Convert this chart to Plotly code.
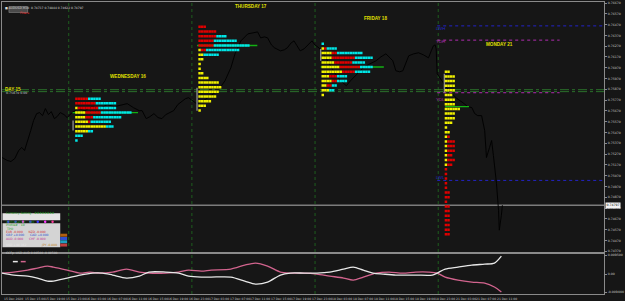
import plotly.graph_objects as go

# ---------------- data ----------------
# price line: bar index (30-min bars from 15 Dec 11:00) and close price
line_bar = [0, 2, 3.5, 5, 6.5, 7.7, 8.8, 10, 11.2, 12.3,
            13.5, 14.6, 15.8, 16.9, 18.1, 19.2, 20.4, 21.5, 22.7, 24.2,
            25.4, 27.3, 29.6, 32.3, 35, 38, 41, 43.8, 46.5, 48.8,
            51.2, 53.5, 54.6, 56.2, 57.7, 59.2, 60.8, 62.3, 63.8, 65.4,
            66.9, 68.5, 70, 71.5, 72.7, 74.2, 75.8, 78.5, 81.2, 84.2,
            86.9, 89.2, 90.8, 93.1, 95.8, 97.7, 99.6, 100.8, 102.3, 103.5,
            105, 106.2, 108.5, 110, 111.2, 112.7, 113.8, 115, 116.2, 117.7,
            118.8, 120, 120.8, 121.9, 123.5, 125, 127.3, 129.6, 131.9, 134.2,
            135.8, 136.9, 138.8, 140.8, 142.7, 144.2, 145.8, 147.7, 149.6, 151.2,
            152.3, 153.5, 155, 156.2, 157.3, 158.5, 160.4, 162.3, 164.2, 166.2,
            167.3, 168.1, 168.8, 169.2, 169.6, 170.8, 172.7, 175, 177.3, 179.6,
            181.5, 183.1, 184.2, 185.4, 186.9, 188.1, 188.8, 190, 190.8, 191.5,
            192.7, 193.5, 193.8, 194.6, 195]
line_price = [0.75239, 0.75212, 0.75202, 0.75230, 0.75304, 0.75332, 0.75304, 0.75387, 0.75489, 0.75581,
              0.75645, 0.75655, 0.75627, 0.75692, 0.75636, 0.75664, 0.75599, 0.75618, 0.75655, 0.75636,
              0.75609, 0.75655, 0.75692, 0.75673, 0.75710, 0.75692, 0.75729, 0.75710, 0.75729, 0.75738,
              0.75701, 0.75673, 0.75673, 0.75599, 0.75618, 0.75645, 0.75609, 0.75599, 0.75636, 0.75655,
              0.75673, 0.75729, 0.75756, 0.75784, 0.75793, 0.75765, 0.75738, 0.75765, 0.75812, 0.75858,
              0.75950, 0.76070, 0.76199, 0.76319, 0.76384, 0.76393, 0.76402, 0.76347, 0.76356, 0.76347,
              0.76282, 0.76255, 0.76227, 0.76236, 0.76255, 0.76301, 0.76319, 0.76273, 0.76227, 0.76245,
              0.76273, 0.76301, 0.76319, 0.76282, 0.76255, 0.76209, 0.76116, 0.76024, 0.75950, 0.75904,
              0.75950, 0.75978, 0.76024, 0.76070, 0.76098, 0.76116, 0.76135, 0.76172, 0.76199, 0.76162,
              0.76135, 0.76042, 0.76033, 0.76042, 0.76116, 0.76181, 0.76199, 0.76209, 0.76190, 0.76162,
              0.76227, 0.76273, 0.76282, 0.76245, 0.76015, 0.75969, 0.75904, 0.75839, 0.75784, 0.75747,
              0.75710, 0.75701, 0.75646, 0.75627, 0.75627, 0.75489, 0.75239, 0.75332, 0.75396, 0.75258,
              0.74999, 0.74750, 0.74566, 0.74704, 0.74797]

price_tick_text = ["0.76670", "0.76570", "0.76470", "0.76370", "0.76270", "0.76170", "0.76070",
                   "0.75970", "0.75870", "0.75770", "0.75670", "0.75570", "0.75470", "0.75370",
                   "0.75270", "0.75170", "0.75070", "0.74970", "0.74870", "0.74770", "0.74670",
                   "0.74570", "0.74470", "0.74370"]
price_tick_vals = [float(t) for t in price_tick_text]

date_bars = [0, 8, 16, 24, 32, 40, 48, 56, 64, 72, 80, 88, 96, 104, 112, 120, 128, 136,
             144, 152, 160, 168, 176, 184, 192]
date_text = ["15 Dec 2020", "15 Dec 15:00", "15 Dec 19:00", "15 Dec 23:00", "16 Dec 03:00",
             "16 Dec 07:00", "16 Dec 11:00", "16 Dec 15:00", "16 Dec 19:00", "16 Dec 23:00",
             "17 Dec 03:00", "17 Dec 07:00", "17 Dec 11:00", "17 Dec 15:00", "17 Dec 19:00",
             "17 Dec 23:00", "18 Dec 03:00", "18 Dec 07:00", "18 Dec 11:00", "18 Dec 15:00",
             "18 Dec 19:00", "18 Dec 23:00", "21 Dec 03:00", "21 Dec 07:00", "21 Dec 11:00"]

day_start_bars = [26, 74, 122, 170]
day_names = ["WEDNESDAY 16", "THURSDAY 17", "FRIDAY 18", "MONDAY 21"]
day_label_bar = [49.2, 97, 145.4, 194]
day_label_price = [0.75990, 0.76642, 0.76522, 0.76282]

# market profiles (TPO counts per price row: yellow / red / cyan sessions)
profile_start = [29, 77, 125, 173]
wed_rows = [0.75784, 0.75741, 0.75698, 0.75655, 0.75612, 0.75569, 0.75526, 0.75483, 0.75440, 0.75397]
wed_yellow = [0, 0, 1, 4, 4, 5, 12, 5, 0, 0]
wed_red = [5, 8, 8, 6, 3, 1, 0, 0, 0, 0]
wed_cyan = [5, 8, 7, 12, 11, 8, 3, 2, 3, 1]

thu_rows = [0.76449, 0.76406, 0.76363, 0.76320, 0.76277, 0.76234, 0.76191, 0.76148, 0.76105, 0.76062,
            0.76019, 0.75976, 0.75933, 0.75890, 0.75847, 0.75804, 0.75761, 0.75718, 0.75675]
thu_yellow = [0, 0, 0, 0, 0, 1, 2, 2, 1, 1, 2, 4, 8, 9, 8, 7, 5, 3, 1]
thu_red = [3, 7, 7, 6, 6, 2, 0, 0, 0, 0, 0, 0, 0, 0, 0, 0, 0, 0, 0]
thu_cyan = [0, 0, 4, 9, 14, 13, 6, 0, 0, 0, 0, 0, 0, 0, 0, 0, 0, 0, 0]

fri_rows = [0.76292, 0.76249, 0.76206, 0.76163, 0.76120, 0.76077, 0.76034, 0.75991, 0.75948, 0.75905,
            0.75862, 0.75819]
fri_yellow = [0, 1, 4, 4, 5, 7, 8, 3, 4, 2, 3, 1]
fri_red = [0, 1, 2, 9, 7, 8, 5, 3, 2, 2, 0, 0]
fri_cyan = [1, 4, 10, 7, 5, 5, 6, 4, 4, 2, 2, 0]

mon_rows = [0.76033, 0.75990, 0.75947, 0.75904, 0.75861, 0.75818, 0.75775, 0.75732, 0.75689, 0.75646,
            0.75603, 0.75560, 0.75517, 0.75474, 0.75431, 0.75388, 0.75345, 0.75302, 0.75259, 0.75216,
            0.75173, 0.75130, 0.75087, 0.75044, 0.75001, 0.74958, 0.74915, 0.74872, 0.74829, 0.74786,
            0.74743, 0.74700, 0.74657, 0.74614, 0.74571, 0.74528]
mon_yellow = [2, 4, 4, 4, 4, 3, 4, 4, 6, 4, 4, 3, 1, 2, 1, 1, 1, 1, 1, 1, 1,
              0, 0, 0, 0, 0, 0, 0, 0, 0, 0, 0, 0, 0, 0, 0]
mon_red = [0, 0, 0, 0, 0, 0, 0, 0, 0, 0, 0, 0, 0, 0, 1, 3, 3, 3, 2, 3, 2,
           1, 1, 1, 1, 1, 2, 2, 1, 2, 2, 2, 2, 2, 2, 2]
mon_cyan = [0] * 36

poc_price = [0.75655, 0.76277, 0.76077, 0.75710]
poc_from = [27.5, 76, 124.2, 172.7]
poc_to = [53, 99.5, 148.8, 182]
ib_bar = [27.7, 76, 124.2, 172.4]
ib_hi = [0.75581, 0.75885, 0.76245, 0.76015]
ib_lo = [0.75489, 0.75673, 0.76135, 0.75839]

level_names = ["LWH", "YDH", "YDL", "LWL"]
level_price = [0.76458, 0.76326, 0.75839, 0.75027]
level_from = [169.6, 169.6, 169.6, 169.6]
level_to = [234.6, 217.3, 217.3, 234.6]
level_colors = ["#2323c8", "#b02cb0", "#b02cb0", "#2323c8"]

pivot_levels = [0.75867, 0.75849]
bid_price = line_price[-1]

# CCFp sub-window
aud_bar = [0, 4.6, 10, 13.8, 17.7, 20, 25.4, 30.4, 34.2, 38.1, 43.1, 48.5, 53.5, 57.3, 63.8,
           68.8, 72.7, 77.7, 81.5, 89.2, 94.6, 98.8, 103.5, 108.5, 112.3, 117.7, 122.7, 127.7,
           133.1, 136.9, 140.8, 145.8, 150.8, 156.2, 161.2, 166.2, 169.6, 172.7, 177.7, 183.1,
           188.1, 191.9, 194.6]
aud_val = [0.0005, 0.0010, 0.0020, 0.0030, 0.0040, 0.0035, 0.0020, 0.0005, 0.0010, 0.0005,
           0.0010, 0.0025, 0.0010, 0.0005, 0.0005, 0.0010, 0.0020, 0.0015, 0.0020, 0.0025,
           0.0045, 0.0055, 0.0040, 0.0010, 0.0005, 0.0005, 0.0, -0.0010, -0.0020, -0.0030,
           -0.0015, 0.0005, 0.0010, 0.0005, 0.0010, 0.0010, 0.0005, -0.0015, -0.0030, -0.0040,
           -0.0045, -0.0065, -0.0090]
usd_bar = [0, 4.6, 10, 13.8, 17.7, 20, 25.4, 30.4, 35.4, 39.2, 43.1, 48.5, 53.5, 57.3, 63.8,
           68.8, 72.7, 77.7, 81.5, 89.2, 94.6, 98.8, 103.5, 108.5, 112.3, 117.7, 122.7, 127.7,
           133.1, 136.9, 140.8, 144.6, 148.5, 153.5, 161.2, 167.7, 169.6, 172.7, 177.7, 183.1,
           188.1, 191.9, 194.6]
usd_val = [0.0005, -0.0005, -0.0010, -0.0020, -0.0035, -0.0035, -0.0020, -0.0005, 0.0005, 0.0005,
           -0.0005, -0.0020, -0.0010, 0.0010, 0.0010, 0.0005, -0.0010, -0.0015, -0.0015, -0.0015,
           -0.0035, -0.0050, -0.0040, -0.0005, 0.0005, 0.0005, 0.0005, 0.0010, 0.0025, 0.0035,
           0.0020, 0.0005, 0.0, -0.0005, -0.0005, -0.0005, 0.0005, 0.0025, 0.0035, 0.0045,
           0.0050, 0.0055, 0.0090]
sub_tick_vals = [0.0095, 0.0, -0.0090]
sub_tick_text = ["0.009500", "0.00", "-0.009000"]

# ---------------- figure ----------------
BG = "#161616"
W, H = 625, 301
ML, MR, MT, MB = 1, 14, 1, 7
PW, PH = W - ML - MR, H - MT - MB
X_MAX = 234.6


def px(v):
    return (v - ML) / PW


def py(v):
    return (H - MB - v) / PH


fig = go.Figure()

# pivot dash-dot lines
for p in pivot_levels:
    fig.add_trace(go.Scatter(x=[0, X_MAX], y=[p, p], mode="lines",
                             line=dict(color="#2b6f2b", width=1, dash="dashdot"),
                             hoverinfo="skip"))

# bid line
fig.add_trace(go.Scatter(x=[0, X_MAX], y=[bid_price, bid_price], mode="lines",
                         line=dict(color="#7c7c7c", width=1.3), hoverinfo="skip"))

# price line
fig.add_trace(go.Scatter(x=line_bar, y=line_price, mode="lines",
                         line=dict(color="rgb(2,2,2)", width=1), hoverinfo="skip"))

# levels
for name, p, a, b, c in zip(level_names, level_price, level_from, level_to, level_colors):
    fig.add_trace(go.Scatter(x=[a, b], y=[p, p], mode="lines",
                             line=dict(color=c, width=1, dash="dot"), hoverinfo="skip"))

# POC lines
for p, a, b in zip(poc_price, poc_from, poc_to):
    fig.add_trace(go.Scatter(x=[a, b], y=[p, p], mode="lines",
                             line=dict(color="#13b013", width=1.4), hoverinfo="skip"))

# IB bars
for b, hi, lo in zip(ib_bar, ib_hi, ib_lo):
    fig.add_trace(go.Scatter(x=[b, b], y=[lo, hi], mode="lines",
                             line=dict(color="#8a8a8a", width=1.4), hoverinfo="skip"))

# profiles
profiles = [
    (wed_rows, wed_yellow, wed_red, wed_cyan),
    (thu_rows, thu_yellow, thu_red, thu_cyan),
    (fri_rows, fri_yellow, fri_red, fri_cyan),
    (mon_rows, mon_yellow, mon_red, mon_cyan),
]
cols = ["#f0f000", "#e00000", "#00e6e6"]
pts = {c: ([], []) for c in cols}
for start, (rows, ys, rs, cs) in zip(profile_start, profiles):
    for i, p in enumerate(rows):
        k = 0
        for c, n in zip(cols, (ys[i], rs[i], cs[i])):
            for _ in range(n):
                pts[c][0].append(start + k)
                pts[c][1].append(p)
                k += 1
for c in cols:
    fig.add_trace(go.Scatter(x=pts[c][0], y=pts[c][1], mode="markers",
                             marker=dict(symbol="square", size=2.5, color=c,
                                         line=dict(width=0)),
                             hoverinfo="skip"))

# CCFp sub-window
fig.add_trace(go.Scatter(x=aud_bar, y=aud_val, mode="lines", xaxis="x2", yaxis="y2",
                         line=dict(color="#d2648e", width=1.3, shape="spline", smoothing=0.8),
                         hoverinfo="skip"))
fig.add_trace(go.Scatter(x=usd_bar, y=usd_val, mode="lines", xaxis="x2", yaxis="y2",
                         line=dict(color="#e8e8e8", width=1.3, shape="spline", smoothing=0.8),
                         hoverinfo="skip"))

AX = "#8a8a8a"
TF = dict(family="DejaVu Sans", size=3.2, color="#c8c8c8")
main_lo = 0.7667 - (252 - 2) * 0.0000923
main_hi = 0.7667 + 0.0000923

fig.update_layout(
    width=W, height=H, margin=dict(l=ML, r=MR, t=MT, b=MB),
    paper_bgcolor=BG, plot_bgcolor=BG, showlegend=False, hovermode=False,
    xaxis=dict(domain=[0, 1], range=[0, X_MAX], anchor="y", showgrid=False, zeroline=False,
               showticklabels=False, ticks="", showline=True, mirror=True, linecolor=AX,
               linewidth=1),
    xaxis2=dict(domain=[0, 1], range=[0, X_MAX], anchor="y2", matches="x", showgrid=False,
                zeroline=False, showticklabels=False, ticks="", showline=True, mirror=True,
                linecolor=AX, linewidth=1),
    yaxis=dict(domain=[py(252), 1], range=[main_lo, main_hi], side="right", anchor="x",
               tickvals=price_tick_vals, ticktext=price_tick_text, ticks="outside",
               ticklen=2, tickcolor=AX, tickfont=TF, showgrid=False, zeroline=False,
               showline=True, mirror=True, linecolor=AX, linewidth=1),
    yaxis2=dict(domain=[0, py(254)], range=[-0.0100, 0.0100], side="right", anchor="x2",
                tickvals=sub_tick_vals, ticktext=sub_tick_text, ticks="outside", ticklen=2,
                tickcolor=AX, tickfont=TF, showgrid=False, zeroline=False, showline=True,
                mirror=True, linecolor=AX, linewidth=1),
)

shapes = []
for b in day_start_bars:
    shapes.append(dict(type="line", xref="x", x0=b, x1=b, yref="paper", y0=0, y1=1,
                       line=dict(color="#1e5e1e", width=1, dash="dot"), layer="below"))

# button top-left
shapes.append(dict(type="rect", xref="paper", yref="paper", x0=px(8), x1=px(27),
                   y0=py(11.5), y1=py(5.5), fillcolor="#4a4a4a",
                   line=dict(color="#8a8a8a", width=0.6)))
# info panels
shapes.append(dict(type="rect", xref="paper", yref="paper", x0=px(1.5), x1=px(60),
                   y0=py(220), y1=py(213), fillcolor="#e4e4e4", line=dict(width=0)))
shapes.append(dict(type="rect", xref="paper", yref="paper", x0=px(1.5), x1=px(60),
                   y0=py(247), y1=py(223), fillcolor="#d4d4d4", line=dict(width=0)))
dot_cols = ["#3a3aff", "#3a3aff", "#ff3aff", "#3a3aff", "#3a3aff", "#ff3aff", "#ff3a9a"]
for i, c in enumerate(dot_cols):
    x0 = 6 + i * 7.5
    shapes.append(dict(type="circle", xref="paper", yref="paper", x0=px(x0), x1=px(x0 + 2.5),
                       y0=py(222.8), y1=py(220.3), fillcolor=c, line=dict(width=0)))
right_cells = ["#b06010", "#3050d0", "#20a0c0", "#c04040"]
for i, c in enumerate(right_cells):
    shapes.append(dict(type="rect", xref="paper", yref="paper", x0=px(60), x1=px(67),
                       y0=py(236.5 + i * 3.3), y1=py(233.5 + i * 3.3), fillcolor=c,
                       line=dict(width=0)))
# subwindow legend chips
shapes.append(dict(type="line", xref="paper", yref="paper", x0=px(12), x1=px(17),
                   y0=py(261.5), y1=py(261.5), line=dict(color="#e8e8e8", width=1.5)))
shapes.append(dict(type="line", xref="paper", yref="paper", x0=px(20), x1=px(25),
                   y0=py(261.5), y1=py(261.5), line=dict(color="#d2648e", width=1.5)))
fig.update_layout(shapes=shapes)

ann = []
for b, t in zip(date_bars, date_text):
    ann.append(dict(x=b, xref="x", y=0, yref="paper", yanchor="top", xanchor="left",
                    yshift=-1, text=t, showarrow=False,
                    font=dict(family="DejaVu Sans", size=3, color="#c8c8c8")))
for name, b, p in zip(day_names, day_label_bar, day_label_price):
    ann.append(dict(x=b, y=p, xref="x", yref="y", text="<b>" + name + "</b>",
                    showarrow=False, font=dict(family="Liberation Sans", size=4.6,
                                               color="#e0e000")))
ann.append(dict(x=px(2), y=py(84), xref="paper", yref="paper", xanchor="left",
                text="<b>DAY 15</b>", showarrow=False,
                font=dict(family="Liberation Sans", size=4.6, color="#e0e000")))
ann.append(dict(x=px(3), y=py(88.5), xref="paper", yref="paper", xanchor="left",
                text="0.75870 0.00", showarrow=False,
                font=dict(family="DejaVu Sans", size=3.2, color="#c8c8c8")))
label_y = [23, 36.5, 94.5, 177]
for name, c, yy in zip(level_names, level_colors, label_y):
    ann.append(dict(x=px(439), y=py(yy), xref="paper", yref="paper", xanchor="left",
                    text=name, showarrow=False,
                    font=dict(family="Liberation Sans", size=4.4, color=c)))
ann.append(dict(x=1, xref="paper", xanchor="left", xshift=1, y=bid_price, yref="y",
                text="%.5f" % bid_price, showarrow=False, bgcolor="#f2f2f2", borderpad=0.4,
                font=dict(family="DejaVu Sans", size=3.2, color="#000000")))
ann.append(dict(x=px(2), y=py(3.2), xref="paper", yref="paper", xanchor="left",
                text="■ AUDUSD,M30  0.74737 0.74844 0.74622 0.74797", showarrow=False,
                font=dict(family="DejaVu Sans", size=3, color="#d8d8d8")))
ann.append(dict(x=px(17.5), y=py(8.5), xref="paper", yref="paper",
                text="Filters", showarrow=False,
                font=dict(family="DejaVu Sans", size=3, color="#ff3030")))
ann.append(dict(x=px(3), y=py(216.5), xref="paper", yref="paper", xanchor="left",
                text="Currency Setting : ########", showarrow=False,
                font=dict(family="DejaVu Sans", size=3, color="#1ea01e")))
panel_lines = [("ProfileRatio# : 100", "#1ea01e", 225.5),
               ("Profile# : 10", "#1ea01e", 229),
               ("TPO", "#1ea01e", 232.3),
               ("EUR -0.000      NZD -0.000", "#d03030", 235.8),
               ("GBP +0.000      CAD +0.000", "#3050d0", 239.2),
               ("AUD -0.000      CHF -0.000", "#c03090", 242.6)]
for t, c, yy in panel_lines:
    ann.append(dict(x=px(3), y=py(yy), xref="paper", yref="paper", xanchor="left",
                    text=t, showarrow=False,
                    font=dict(family="DejaVu Sans", size=3, color=c)))
ann.append(dict(x=px(3), y=py(248.5), xref="paper", yref="paper", xanchor="left",
                text="USD +44 162", showarrow=False,
                font=dict(family="DejaVu Sans", size=3, color="#e8e8e8")))
ann.append(dict(x=px(38), y=py(248.5), xref="paper", yref="paper", xanchor="left",
                text="JPY -0.800", showarrow=False,
                font=dict(family="DejaVu Sans", size=3, color="#c08020")))
ann.append(dict(x=px(3), y=py(256.5), xref="paper", yref="paper", xanchor="left",
                text="CCFp: USD AUD 0.00500 -0.00500", showarrow=False,
                font=dict(family="DejaVu Sans", size=3, color="#c8c8c8")))
fig.update_layout(annotations=ann)

fig.write_html("out.html")
